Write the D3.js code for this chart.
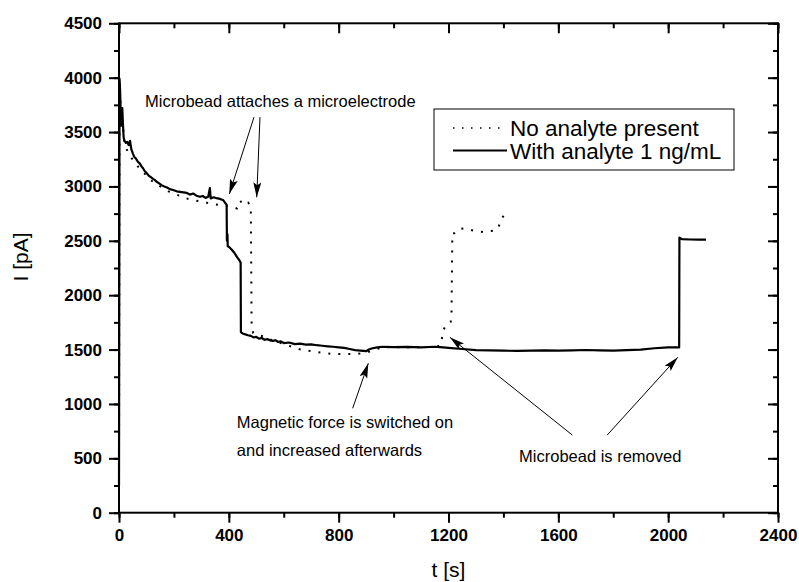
<!DOCTYPE html>
<html>
<head>
<meta charset="utf-8">
<script src="https://cdn.jsdelivr.net/npm/d3@7"></script>
<style>
body { margin: 0; background: #fff; }
svg { font-family: "Liberation Sans", Arial, sans-serif; }
</style>
</head>
<body>
<script>
// t [s], I [pA] -- with analyte 1 ng/mL (solid)
var withT = [0,2,4,6,8,10,12,14,17,20,25,30,35,40,45,51,56,62,68,76,82,88,94,100,108,116,124,130,137,145,155,165,175,185,197,210,222,235,247,258,270,282,295,305,315,325,331,334,345,355,368,380,388,392,393,395,396,400,410,420,430,438,443,444,450,460,470,480,490,500,510,520,530,540,550,560,570,580,590,600,620,640,660,680,700,720,740,760,780,800,820,840,860,880,900,910,920,940,960,1000,1050,1100,1150,1170,1200,1250,1300,1350,1400,1450,1500,1550,1600,1650,1700,1750,1800,1850,1900,1950,2000,2040,2041,2050,2080,2110,2138];
var withI = [250,3990,3880,3700,3560,3620,3720,3590,3450,3420,3400,3410,3380,3420,3340,3300,3270,3255,3230,3210,3185,3165,3140,3125,3100,3085,3070,3060,3043,3030,3012,3000,2990,2975,2967,2955,2950,2945,2940,2925,2935,2915,2905,2912,2895,2905,2985,2890,2900,2892,2885,2872,2845,2830,2500,2560,2450,2445,2420,2390,2350,2322,2300,1660,1648,1640,1632,1626,1612,1616,1600,1606,1590,1596,1585,1580,1586,1570,1575,1560,1565,1550,1555,1545,1548,1540,1535,1530,1526,1520,1515,1505,1495,1490,1485,1500,1510,1520,1526,1522,1525,1520,1526,1522,1515,1505,1495,1492,1490,1488,1490,1493,1491,1493,1496,1492,1490,1495,1500,1512,1520,1520,2530,2515,2512,2510,2510];

// no analyte present (dotted)
var noT = [0,2,5,8,12,16,20,30,40,55,70,85,100,120,140,160,180,200,220,240,260,280,300,320,337,368,400,415,429,441,453,471,480,483,489,520,560,600,659,700,740,780,841,870,902,930,960,1000,1050,1100,1150,1170,1175,1181,1193,1208,1211,1214,1221,1236,1260,1293,1327,1363,1381,1391,1402];
var noI = [250,3950,3800,3600,3650,3500,3380,3330,3280,3230,3180,3140,3100,3050,3015,2985,2955,2935,2915,2895,2880,2870,2860,2850,2838,2829,2820,2810,2798,2869,2829,2850,2813,1700,1652,1625,1585,1550,1502,1485,1470,1459,1460,1462,1471,1500,1520,1522,1520,1522,1525,1535,1588,1678,1735,1754,1839,2569,2569,2608,2615,2593,2581,2593,2611,2698,2734];

var xTicks = [0,400,800,1200,1600,2000,2400];
var yTicks = [0,500,1000,1500,2000,2500,3000,3500,4000,4500];
var seriesNames = ["No analyte present", "With analyte 1 ng/mL"];

var annotations = [
  { lines: ["Microbead attaches a microelectrode"], at: [95, 3733], arrows: [[[491.6, 3637], [401.7, 2930]], [[513.5, 3637], [501.5, 2900]]] },
  { lines: ["Magnetic force is switched on", "and increased afterwards"], at: [429, 779], arrows: [[[851, 960], [908, 1374]]] },
  { lines: ["Microbead is removed"], at: [1457, 469], arrows: [[[1651, 714], [1205, 1613]], [[1778, 714], [2035, 1429]]] }
];

var width = 799, height = 582;
var x = d3.scaleLinear().domain([0, 2400]).range([119, 778]);
var y = d3.scaleLinear().domain([0, 4500]).range([512.7, 23.3]);

var svg = d3.select("body").append("svg").attr("width", width).attr("height", height);

var defs = svg.append("defs");
defs.append("marker")
  .attr("id", "head")
  .attr("markerUnits", "userSpaceOnUse")
  .attr("markerWidth", 15).attr("markerHeight", 8)
  .attr("refX", 15).attr("refY", 4)
  .attr("orient", "auto")
  .append("path").attr("d", "M0,0 L15,4 L0,8 L3,4 Z").attr("fill", "#000");

// axes
function styleAxis(g) {
  g.attr("font-family", null).attr("font-size", null);
  g.selectAll(".domain").remove();
  g.selectAll(".tick line").attr("stroke", "#000").attr("stroke-width", 2);
  g.selectAll(".tick text")
    .attr("fill", "#000")
    .style("font-family", "'Liberation Sans', Arial, sans-serif")
    .style("font-weight", "bold")
    .style("font-size", "17px");
}
var minorX = d3.range(0, 2401, 200), minorY = d3.range(0, 4501, 250);

svg.append("g").attr("transform", "translate(0," + y(0) + ")")
  .call(d3.axisBottom(x).tickValues(minorX).tickSize(5).tickFormat(""))
  .call(styleAxis);
svg.append("g").attr("transform", "translate(0," + y(0) + ")")
  .call(d3.axisBottom(x).tickValues(xTicks).tickSize(10).tickPadding(6).tickFormat(d3.format("d")))
  .call(styleAxis);
svg.append("g").attr("transform", "translate(0," + y(4500) + ")")
  .call(d3.axisTop(x).tickValues(minorX).tickSize(-5).tickFormat(""))
  .call(styleAxis);
svg.append("g").attr("transform", "translate(0," + y(4500) + ")")
  .call(d3.axisTop(x).tickValues(xTicks).tickSize(-10).tickFormat(""))
  .call(styleAxis);

svg.append("g").attr("transform", "translate(" + x(0) + ",0)")
  .call(d3.axisLeft(y).tickValues(minorY).tickSize(5).tickFormat(""))
  .call(styleAxis);
svg.append("g").attr("transform", "translate(" + x(0) + ",0)")
  .call(d3.axisLeft(y).tickValues(yTicks).tickSize(10).tickPadding(7).tickFormat(d3.format("d")))
  .call(styleAxis);
svg.append("g").attr("transform", "translate(" + x(2400) + ",0)")
  .call(d3.axisRight(y).tickValues(minorY).tickSize(-5).tickFormat(""))
  .call(styleAxis);
svg.append("g").attr("transform", "translate(" + x(2400) + ",0)")
  .call(d3.axisRight(y).tickValues(yTicks).tickSize(-10).tickFormat(""))
  .call(styleAxis);

// frame
svg.append("rect")
  .attr("x", x(0)).attr("y", y(4500))
  .attr("width", x(2400) - x(0)).attr("height", y(0) - y(4500))
  .attr("fill", "none").attr("stroke", "#000").attr("stroke-width", 2);

// series
var line = d3.line().x(function(d){ return x(d[0]); }).y(function(d){ return y(d[1]); });
var noData = noT.map(function(t, i){ return [t, noI[i]]; });
var withData = withT.map(function(t, i){ return [t, withI[i]]; });

svg.append("path").datum(noData)
  .attr("d", line).attr("fill", "none").attr("stroke", "#000")
  .attr("stroke-width", 2).attr("stroke-dasharray", "2,8");
svg.append("path").datum(withData)
  .attr("d", line).attr("fill", "none").attr("stroke", "#000")
  .attr("stroke-width", 2.2).attr("stroke-linejoin", "round");

// axis titles
svg.append("text").attr("x", (x(0) + x(2400)) / 2).attr("y", 577)
  .attr("text-anchor", "middle").style("font-size", "21px").text("t [s]");
svg.append("text").attr("transform", "translate(27.5,257) rotate(-90)")
  .attr("text-anchor", "middle").style("font-size", "21px").text("I [pA]");

// legend
var leg = svg.append("g");
leg.append("rect").attr("x", 434).attr("y", 109).attr("width", 300).attr("height", 61)
  .attr("fill", "#fff").attr("stroke", "#000").attr("stroke-width", 1);
seriesNames.forEach(function(name, i){
  var yy = 128 + i * 22.5;
  leg.append("line").attr("x1", 453).attr("x2", 507).attr("y1", yy).attr("y2", yy)
    .attr("stroke", "#000")
    .attr("stroke-width", i === 0 ? 1.5 : 2)
    .attr("stroke-dasharray", i === 0 ? "1.5,7.5" : null);
  leg.append("text").attr("x", 510).attr("y", yy + 8).style("font-size", "22.5px").text(name);
});

// annotations
annotations.forEach(function(a){
  a.lines.forEach(function(s, k){
    svg.append("text")
      .attr("x", x(a.at[0])).attr("y", y(a.at[1]) + k * 28)
      .style("font-size", "16.5px").text(s);
  });
  a.arrows.forEach(function(ar){
    svg.append("line")
      .attr("x1", x(ar[0][0])).attr("y1", y(ar[0][1]))
      .attr("x2", x(ar[1][0])).attr("y2", y(ar[1][1]))
      .attr("stroke", "#000").attr("stroke-width", 1)
      .attr("marker-end", "url(#head)");
  });
});
</script>
</body>
</html>
